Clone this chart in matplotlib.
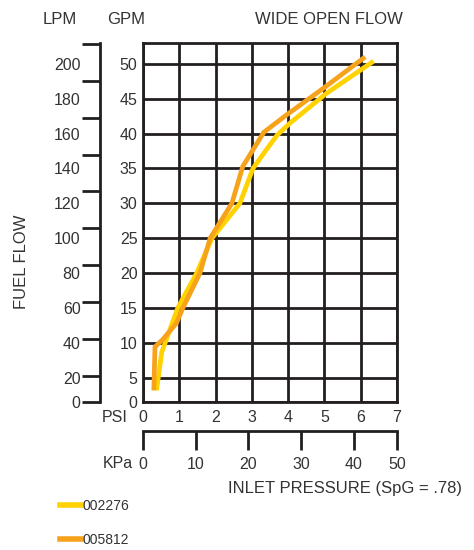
import numpy as np
import matplotlib
matplotlib.use('Agg')
import matplotlib.pyplot as plt
from matplotlib.lines import Line2D

# flow curves (PSI vs GPM)
psi_002276 = [0.38, 0.52, 0.96, 1.48, 1.90, 2.67, 3.03, 3.40, 3.70, 4.05, 5.06, 6.30]
gpm_002276 = [3.5, 8.7, 15.0, 20.0, 25.0, 30.0, 35.0, 37.7, 39.8, 41.5, 45.8, 50.2]
psi_005812 = [0.30, 0.33, 0.55, 0.92, 1.10, 1.57, 1.85, 2.45, 2.75, 3.33, 3.96, 4.97, 6.07]
gpm_005812 = [3.5, 9.4, 10.5, 12.8, 15.0, 20.0, 25.0, 30.0, 35.3, 40.2, 42.7, 46.5, 50.8]

gpm_ticks = [0, 5, 10, 15, 20, 25, 30, 35, 40, 45, 50]
lpm_ticks = [0, 20, 40, 60, 80, 100, 120, 140, 160, 180, 200]
psi_ticks = [0, 1, 2, 3, 4, 5, 6, 7]
kpa_ticks = [0, 10, 20, 30, 40, 50]
series_names = ['002276', '005812']

YELLOW = '#FFD200'
ORANGE = '#F7A21B'
DARK = '#231f20'
TXT = '#333333'
plt.rcParams['font.family'] = ['Liberation Sans', 'DejaVu Sans']

W, H = 474, 550
fig = plt.figure(figsize=(W / 100, H / 100), dpi=100)


def box(l, t, r, b):
    return [l / W, 1 - b / H, (r - l) / W, (b - t) / H]


ybot, ytop = 1.5, 53.0

# main grid
ax = fig.add_axes(box(143, 43, 397, 402))
ax.set_xlim(0, 7)
ax.set_ylim(ybot, ytop)
ax.set_xticks(psi_ticks)
ax.set_xticklabels([str(v) for v in psi_ticks])
ax.set_yticks([ybot] + gpm_ticks[1:])
ax.set_yticklabels([str(v) for v in gpm_ticks])
ax.grid(True, color=DARK, lw=2.0)
for s in ax.spines.values():
    s.set_color(DARK)
    s.set_linewidth(2.0)
ax.tick_params(length=0, labelsize=11.5, labelcolor=TXT)
ax.tick_params(axis='x', pad=6)
ax.tick_params(axis='y', pad=4)
ax.plot(psi_002276, gpm_002276, color=YELLOW, lw=3.4, solid_joinstyle='miter', zorder=3)
ax.plot(psi_005812, gpm_005812, color=ORANGE, lw=3.4, solid_joinstyle='miter', zorder=3)

# LPM scale
ax_l = fig.add_axes(box(100, 43, 101, 402))
ax_l.set_ylim(ybot, ytop)
ax_l.set_xticks([])
for k, s in ax_l.spines.items():
    s.set_visible(k == 'left')
ax_l.spines['left'].set_color(DARK)
ax_l.spines['left'].set_linewidth(2.0)
ax_l.yaxis.remove_overlapping_locs = False
ax_l.set_yticks([ybot] + [v / 3.785 for v in lpm_ticks[1:]])
ax_l.set_yticklabels([])
ax_l.set_yticks([ybot] + gpm_ticks[1:], minor=True)
ax_l.set_yticklabels([str(v) for v in lpm_ticks], minor=True)
ax_l.tick_params(axis='y', which='major', length=13, width=2.0, color=DARK)
ax_l.tick_params(axis='y', which='minor', length=0, pad=14, labelsize=11.5, labelcolor=TXT)

# KPa scale
ax_k = fig.add_axes(box(143, 430, 397, 431))
ax_k.set_xlim(0, 7)
ax_k.set_yticks([])
for k, s in ax_k.spines.items():
    s.set_visible(k == 'bottom')
ax_k.spines['bottom'].set_color(DARK)
ax_k.spines['bottom'].set_linewidth(2.0)
ax_k.set_xticks([min(v / 6.895, 7) for v in kpa_ticks])
ax_k.set_xticklabels([str(v) for v in kpa_ticks])
ax_k.tick_params(axis='x', length=14, width=2.0, color=DARK, pad=5, labelsize=11.5, labelcolor=TXT)

# texts
fig.text(43 / W, 1 - 20 / H, 'LPM', fontsize=12, color=TXT, va='center')
fig.text(107 / W, 1 - 20 / H, 'GPM', fontsize=12, color=TXT, va='center')
fig.text(403 / W, 1 - 20 / H, 'WIDE OPEN FLOW', fontsize=12, color=TXT, va='center', ha='right')
fig.text(128 / W, 1 - 418 / H, 'PSI', fontsize=11.5, color=TXT, va='center', ha='right')
fig.text(133 / W, 1 - 464 / H, 'KPa', fontsize=11.5, color=TXT, va='center', ha='right')
fig.text(462 / W, 1 - 488 / H, 'INLET PRESSURE (SpG = .78)', fontsize=12, color=TXT,
         va='center', ha='right')
fig.text(22 / W, 1 - 262 / H, 'FUEL FLOW', fontsize=12, color=TXT, va='center', ha='center',
         rotation=90)

handles = [Line2D([], [], color=YELLOW, lw=4), Line2D([], [], color=ORANGE, lw=4)]
fig.legend(handles, series_names, loc='upper left', bbox_to_anchor=(60 / W, 1 - 499 / H),
           frameon=False, borderpad=0, borderaxespad=0, handlelength=1.5, handletextpad=0.15,
           labelspacing=1.45, prop={'size': 10}, labelcolor='#333333')

fig.savefig('out.png', dpi=100, facecolor='white')
